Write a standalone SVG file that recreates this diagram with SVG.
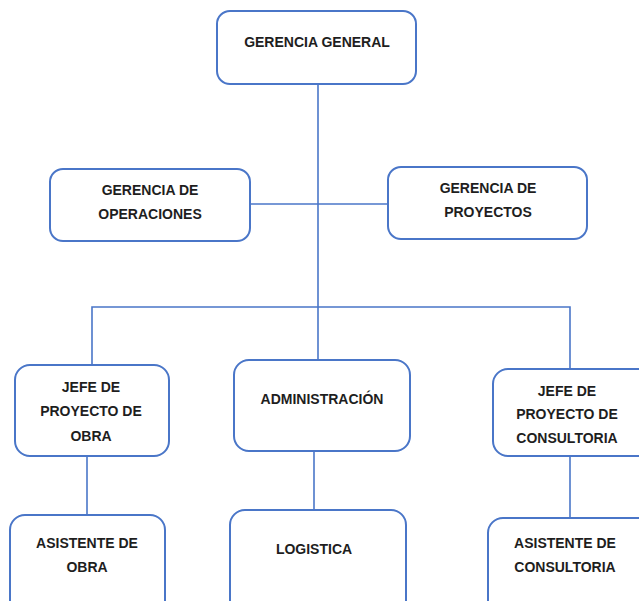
<svg xmlns="http://www.w3.org/2000/svg" width="639" height="601" viewBox="0 0 639 601">
<style>
.box{fill:#fff;stroke:#4a76c8;stroke-width:2}
.ln{stroke:#4a76c8;stroke-width:1.6;fill:none}
text{font-family:"Liberation Sans",Arial,sans-serif;font-weight:bold;font-size:14px;fill:#1e1e1e;text-anchor:middle}
</style>
<rect width="639" height="601" fill="#fff"/>
<g id="connectors">
<line class="ln" x1="318" y1="84" x2="318" y2="360"/>
<line class="ln" x1="250" y1="204" x2="388" y2="204"/>
<polyline class="ln" points="92,366 92,307 570,307 570,370"/>
<line class="ln" x1="87" y1="456" x2="87" y2="516"/>
<line class="ln" x1="314" y1="451" x2="314" y2="511"/>
<line class="ln" x1="570" y1="456" x2="570" y2="519"/>
</g>
<g id="gerencia-general">
<rect class="box" x="217" y="11" width="199" height="73" rx="13"/>
<text x="317" y="47">GERENCIA GENERAL</text>
</g>
<g id="gerencia-operaciones">
<rect class="box" x="50" y="169" width="200" height="72" rx="13"/>
<text x="150" y="195">GERENCIA DE</text>
<text x="150" y="219">OPERACIONES</text>
</g>
<g id="gerencia-proyectos">
<rect class="box" x="388" y="167" width="199" height="72" rx="13"/>
<text x="488" y="193">GERENCIA DE</text>
<text x="488" y="217">PROYECTOS</text>
</g>
<g id="jefe-obra">
<rect class="box" x="15" y="365" width="154" height="91" rx="15"/>
<text x="91" y="392">JEFE DE</text>
<text x="91" y="416">PROYECTO DE</text>
<text x="91" y="441">OBRA</text>
</g>
<g id="administracion">
<rect class="box" x="234" y="360" width="176" height="91" rx="15"/>
<text x="322" y="404">ADMINISTRACIÓN</text>
</g>
<g id="jefe-consultoria">
<rect class="box" x="493" y="369" width="160" height="87" rx="15"/>
<text x="567" y="396">JEFE DE</text>
<text x="567" y="419">PROYECTO DE</text>
<text x="567" y="443">CONSULTORIA</text>
</g>
<g id="asistente-obra">
<rect class="box" x="10" y="515" width="155" height="100" rx="15"/>
<text x="87" y="548">ASISTENTE DE</text>
<text x="87" y="572">OBRA</text>
</g>
<g id="logistica">
<rect class="box" x="230" y="510" width="176" height="105" rx="15"/>
<text x="314" y="554">LOGISTICA</text>
</g>
<g id="asistente-consultoria">
<rect class="box" x="488" y="518" width="165" height="97" rx="15"/>
<text x="565" y="548">ASISTENTE DE</text>
<text x="565" y="572">CONSULTORIA</text>
</g>
</svg>
